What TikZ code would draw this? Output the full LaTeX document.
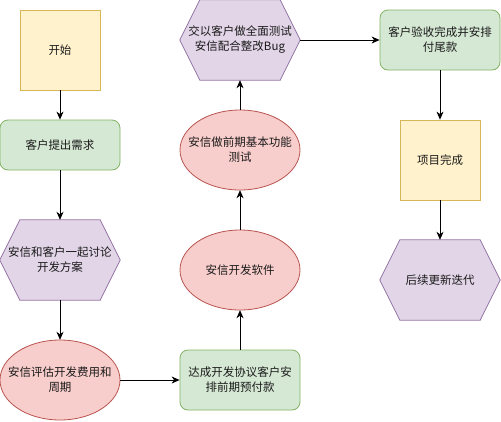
\documentclass[tikz,border=0pt]{standalone}
\usepackage{fontspec}
\setmainfont{Noto Sans CJK SC}
\usetikzlibrary{arrows.meta,backgrounds}
\definecolor{yfill}{HTML}{FFF2CC}\definecolor{ydraw}{HTML}{D6B656}
\definecolor{gfill}{HTML}{D5E8D4}\definecolor{gdraw}{HTML}{82B366}
\definecolor{pfill}{HTML}{E1D5E7}\definecolor{pdraw}{HTML}{9673A6}
\definecolor{rfill}{HTML}{F8CECC}\definecolor{rdraw}{HTML}{B85450}
\definecolor{txt}{HTML}{1A1A1A}
\newcommand{\hexpath}[1]{%
  \begin{scope}[on background layer]
  \draw[hexline] ([xshift=20pt]#1.north west) -- ([xshift=-20pt]#1.north east) -- (#1.east) -- ([xshift=-20pt]#1.south east) -- ([xshift=20pt]#1.south west) -- (#1.west) -- cycle;
  \end{scope}}
\newcommand{\ellpath}[1]{%
  \begin{scope}[on background layer]
  \draw[ellline] (#1.center) ellipse [x radius=60pt, y radius=40pt];
  \end{scope}}
\begin{document}
\begin{tikzpicture}[x=1pt,y=-1pt,
  every node/.style={font=\fontsize{11.5pt}{15pt}\selectfont, text=txt, align=center, inner sep=0pt},
  sq/.style={draw=ydraw, fill=yfill, line width=0.8pt, minimum width=80pt, minimum height=80pt},
  rbox/.style={draw=gdraw, fill=gfill, line width=0.8pt, rounded corners=8pt, minimum width=120pt, minimum height=#1},
  shapenode/.style={minimum width=120pt, minimum height=80pt},
  ellline/.style={draw=rdraw, fill=rfill, line width=0.8pt},
  hexline/.style={draw=pdraw, fill=pfill, line width=0.8pt},
  arr/.style={-{Stealth[length=8pt,width=7pt,inset=2.5pt]}, line width=0.8pt, black}
]
\useasboundingbox (0,0) rectangle (501,421);
\node[sq] (start) at (60,50) {开始};
\node[rbox=50pt] (req) at (60,145) {客户提出需求};
\node[shapenode] (disc) at (60,260) {安信和客户一起讨论\\开发方案};
\hexpath{disc}
\node[shapenode] (eval) at (60,380) {安信评估开发费用和\\周期};
\ellpath{eval}
\node[rbox=60pt] (agree) at (240,380) {达成开发协议客户安\\排前期预付款};
\node[shapenode] (dev) at (240,270) {安信开发软件};
\ellpath{dev}
\node[shapenode] (pretest) at (240,150) {安信做前期基本功能\\测试};
\ellpath{pretest}
\node[shapenode] (full) at (240,40) {交以客户做全面测试\\安信配合整改Bug};
\hexpath{full}
\node[rbox=60pt] (accept) at (440,40) {客户验收完成并安排\\付尾款};
\node[sq] (done) at (440,160) {项目完成};
\node[shapenode] (iter) at (440,280) {后续更新迭代};
\hexpath{iter}
\draw[arr] (start) -- (req);
\draw[arr] (req) -- (disc);
\draw[arr] (disc) -- (eval);
\draw[arr] (eval) -- (agree);
\draw[arr] (agree) -- (dev);
\draw[arr] (dev) -- (pretest);
\draw[arr] (pretest) -- (full);
\draw[arr] (full) -- (accept);
\draw[arr] (accept) -- (done);
\draw[arr] (done) -- (iter);
\end{tikzpicture}
\end{document}
